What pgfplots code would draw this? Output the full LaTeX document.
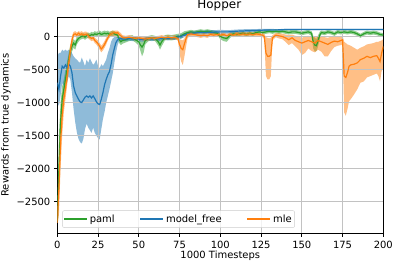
\documentclass[border=0pt]{standalone}
\usepackage{fontspec}
\setmainfont{DejaVu Sans}
\usepackage{pgfplots}
\usepackage{pgfplotstable}
\pgfplotsset{compat=1.18}
\usepgfplotslibrary{fillbetween}
\definecolor{cblue}{HTML}{1F77B4}
\definecolor{corange}{HTML}{FF7F0E}
\definecolor{cgreen}{HTML}{2CA02C}

\pgfplotstableread{
x m lo hi
0 -2800 -2850 -2750
1 -2000 -2400 -1500
2 -1300 -1600 -1000
3 -950 -1150 -750
4 -800 -950 -650
5 -650 -800 -500
6 -500 -650 -380
7 -350 -470 -250
8 -220 -320 -130
9 -150 -230 -80
10 -100 -170 -40
11 -130 -200 -70
12 -60 -120 -10
13 -30 -80 20
14 -10 -50 30
15 0 -40 40
16 10 -30 50
17 -10 -50 30
18 10 -30 50
19 20 -20 60
20 10 -30 50
21 30 -10 70
22 20 -20 60
23 40 0 80
24 30 -10 70
25 40 0 80
26 50 10 90
27 30 -10 70
28 40 0 80
29 50 10 90
30 40 0 80
31 50 10 90
32 30 -10 70
33 40 0 80
34 50 10 90
35 40 0 80
36 30 -10 60
37 20 -20 50
38 -50 -100 -10
39 -80 -130 -40
40 -60 -110 -20
42 -50 -90 -10
44 -30 -70 10
46 -20 -60 20
48 -50 -90 -10
50 -80 -140 -30
51 -130 -220 -60
52 -160 -300 -80
53 -120 -240 -50
54 -60 -120 -20
56 -30 -70 10
58 -20 -60 20
60 -30 -70 10
62 -80 -140 -30
63 -130 -200 -60
64 -80 -150 -30
66 -20 -60 20
68 -10 -50 30
70 -20 -60 20
72 -10 -50 30
74 0 -40 40
76 10 -30 50
78 40 0 80
80 60 30 90
82 70 40 100
84 60 30 90
86 70 40 100
88 80 50 110
90 70 40 100
92 80 50 110
94 70 40 100
96 60 30 90
98 50 20 80
100 0 -40 40
102 -20 -70 20
104 -30 -80 10
106 20 -20 60
108 40 10 70
110 30 0 60
112 40 10 70
114 50 20 80
116 30 0 60
118 50 20 80
120 40 10 70
122 60 30 90
124 70 40 100
126 60 30 90
128 70 40 100
130 80 50 110
132 70 40 100
134 80 50 110
136 70 40 100
138 80 50 110
140 70 40 100
142 60 30 90
144 70 40 100
146 70 40 100
148 60 30 90
150 50 20 80
152 60 30 90
154 70 40 100
156 50 10 80
157 -80 -180 10
158 -130 -230 -20
159 -140 -220 -40
160 -60 -150 20
161 20 -40 70
162 60 30 90
164 50 20 80
166 70 40 100
168 60 30 90
170 40 10 70
172 70 40 100
174 60 30 90
176 70 40 100
178 60 30 90
180 70 40 100
182 60 30 90
184 40 10 70
186 10 -20 40
188 40 10 70
190 60 30 90
192 50 20 80
194 60 30 90
196 50 20 80
198 30 0 60
200 20 -10 50
}\paml

\pgfplotstableread{
x m lo hi
0 -700 -1000 -300
1 -800 -1050 -250
2 -600 -900 -250
3 -450 -700 -200
4 -480 -750 -220
5 -430 -650 -200
6 -470 -700 -220
7 -420 -600 -200
8 -450 -650 -220
9 -550 -850 -250
10 -750 -1100 -300
11 -850 -1300 -330
12 -900 -1450 -350
13 -950 -1550 -380
14 -990 -1600 -400
15 -1000 -1620 -320
16 -960 -1550 -380
17 -920 -1400 -450
18 -900 -1320 -350
19 -920 -1380 -400
20 -900 -1420 -330
21 -930 -1460 -380
22 -900 -1380 -430
23 -940 -1460 -400
24 -990 -1500 -350
25 -1020 -1540 -450
26 -1030 -1560 -480
27 -950 -1400 -420
28 -850 -1250 -450
29 -730 -1140 -400
30 -650 -1000 -350
31 -580 -900 -250
32 -530 -800 -180
33 -420 -680 -80
34 -280 -560 -30
35 -180 -400 -10
36 -90 -250 0
37 -50 -130 10
38 -25 -60 15
39 -30 -60 5
40 -40 -70 -10
42 -40 -70 -10
44 -30 -60 0
46 -40 -70 -10
48 -30 -60 0
50 -40 -70 -10
52 -50 -80 -20
54 -40 -70 -10
56 -30 -60 0
58 -40 -70 -10
60 -30 -60 0
62 -40 -70 -10
64 -30 -60 0
66 -20 -50 10
68 -30 -60 0
70 -20 -50 10
72 -20 -50 10
74 -10 -40 20
76 0 -30 30
78 20 -10 50
80 40 10 70
82 50 20 80
84 50 20 80
86 60 30 90
88 60 30 90
90 60 30 90
95 65 35 95
100 70 40 100
105 70 45 95
110 80 55 105
115 85 60 110
120 90 70 110
125 95 75 115
130 100 85 115
135 100 88 112
140 105 95 115
150 105 95 115
160 106 96 116
170 106 96 116
180 107 97 117
190 107 97 117
200 107 97 117
}\mfree

\pgfplotstableread{
x m lo hi
0 -2820 -2850 -2780
1 -2300 -2700 -1800
2 -1600 -2000 -1200
3 -1200 -1500 -900
4 -950 -1150 -750
5 -800 -950 -600
6 -600 -750 -450
7 -400 -550 -280
8 -220 -330 -120
9 -60 -130 10
10 30 -10 70
11 40 0 80
12 20 -20 60
13 50 10 80
14 30 -10 70
15 40 0 80
16 20 -20 60
17 35 -5 75
18 30 -10 70
19 10 -30 50
20 -10 -50 30
21 -30 -70 10
22 -20 -60 20
23 -60 -100 -20
24 -80 -120 -40
25 -110 -160 -60
26 -150 -200 -100
27 -190 -240 -140
28 -160 -210 -110
29 -120 -170 -70
30 -70 -120 -20
31 -20 -60 20
32 20 -20 60
33 40 0 80
34 50 10 90
35 60 20 90
36 50 10 90
37 60 20 90
38 30 -10 70
39 10 -30 50
40 -10 -40 20
42 -20 -50 10
44 -10 -40 20
46 -20 -50 10
48 -30 -60 0
50 -20 -50 10
52 -30 -60 0
54 -40 -70 -10
56 -30 -60 0
58 -20 -50 10
60 -30 -60 0
62 -20 -50 10
64 -10 -40 20
66 -20 -50 10
68 -10 -40 20
70 -20 -50 10
72 -10 -40 20
74 -30 -60 0
75 -120 -250 -40
76 -180 -380 -50
77 -200 -430 -60
78 -110 -300 -30
79 -30 -150 10
80 30 -20 60
82 40 10 70
84 30 0 60
86 20 -10 50
88 10 -20 40
90 20 -10 50
92 10 -20 40
94 30 0 60
96 20 -10 50
98 30 0 60
100 20 -10 50
102 30 0 60
104 10 -20 40
106 30 0 60
108 20 -10 50
110 40 10 70
112 30 0 60
114 40 10 70
116 30 0 60
118 40 10 70
120 30 0 60
122 40 10 70
124 30 0 60
126 20 -10 50
127 0 -40 40
128 -250 -600 -10
129 -300 -650 -20
130 -300 -650 -30
131 -280 -600 -20
132 -20 -60 20
134 20 -10 50
136 10 -30 50
138 0 -40 40
140 -20 -80 30
142 -50 -130 20
144 -20 -100 30
146 -60 -150 10
148 -80 -200 0
150 -100 -280 -20
152 -80 -250 0
154 -60 -180 10
156 -80 -220 0
158 -100 -240 -10
160 -60 -200 10
162 -80 -230 0
164 -100 -300 -10
166 -120 -300 -20
168 -90 -220 0
170 -70 -160 10
172 -80 -140 0
174 -60 -130 10
175 -50 -120 10
176 -600 -1150 -80
177 -620 -1200 -100
178 -550 -1100 -120
179 -450 -980 -130
180 -430 -950 -140
182 -420 -880 -170
184 -400 -800 -200
186 -350 -700 -170
188 -330 -680 -150
190 -300 -620 -120
192 -320 -600 -110
194 -300 -580 -100
196 -290 -560 -80
197 -330 -600 -80
198 -380 -680 -70
199 -250 -520 -60
200 -150 -480 -40
}\mle

\begin{document}
\begin{tikzpicture}
\begin{axis}[
  set layers,
  scale only axis,
  width=326bp, height=216bp,
  xmin=0, xmax=200, ymin=-2975, ymax=295,
  xtick={0,25,...,200},
  ytick={-2500,-2000,-1500,-1000,-500,0},
  yticklabels={−2500,−2000,−1500,−1000,−500,0},
  /pgf/number format/assume math mode=true,
  tick align=outside,
  tick pos=left,
  major tick length=3.5bp,
  tick style={black, line width=0.8bp},
  axis line style={black, line width=0.8bp},
  grid=major,
  major grid style={color=black!24, line width=0.8bp},
  tick label style={font=\fontsize{10}{12}\selectfont},
  label style={font=\fontsize{10}{12}\selectfont},
  xticklabel style={yshift=-1bp},
  title={Hopper},
  title style={font=\fontsize{12}{14}\selectfont, at={(0.5,1)}, anchor=base, yshift=3bp, xshift=-1bp},
  xlabel={1000 Timesteps},
  ylabel={Rewards from true dynamics},
  xlabel style={yshift=4bp},
  ylabel style={yshift=-1bp},
  fill between/on layer=axis background,
  legend columns=3,
  legend style={at={(0.015,0.024)}, anchor=south west, draw=black!20, rounded corners=2pt,
    fill=white, fill opacity=0.8, text opacity=1,
    font=\fontsize{10}{12}\selectfont, inner xsep=1bp, inner ysep=2bp,
    /tikz/every even column/.append style={column sep=23bp}},
  legend cell align=left,
  legend image code/.code={\draw[#1, line width=1.4bp] (0bp,0bp) -- (23bp,0bp);},
]
\addplot[draw=none, name path=gl, forget plot] table[x=x,y=lo]{\paml};
\addplot[draw=none, name path=gh, forget plot] table[x=x,y=hi]{\paml};
\addplot[fill=cgreen, fill opacity=0.5, draw=none, forget plot] fill between[of=gl and gh];
\addplot[draw=none, name path=bl, forget plot] table[x=x,y=lo]{\mfree};
\addplot[draw=none, name path=bh, forget plot] table[x=x,y=hi]{\mfree};
\addplot[fill=cblue, fill opacity=0.5, draw=none, forget plot] fill between[of=bl and bh];
\addplot[draw=none, name path=ol, forget plot] table[x=x,y=lo]{\mle};
\addplot[draw=none, name path=oh, forget plot] table[x=x,y=hi]{\mle};
\addplot[fill=corange, fill opacity=0.5, draw=none, forget plot] fill between[of=ol and oh];

\addplot[cgreen, line width=1.2bp, mark=none] table[x=x,y=m]{\paml};
\addlegendentry{paml}
\addplot[cblue, line width=1.2bp, mark=none] table[x=x,y=m]{\mfree};
\addlegendentry{model\_free}
\addplot[corange, line width=1.2bp, mark=none] table[x=x,y=m]{\mle};
\addlegendentry{mle}
\end{axis}
\pgfresetboundingbox
\path ([shift={(-57.3bp,-33bp)}]current axis.south west) rectangle ([shift={(14.7bp,17bp)}]current axis.north east);
\end{tikzpicture}
\end{document}
